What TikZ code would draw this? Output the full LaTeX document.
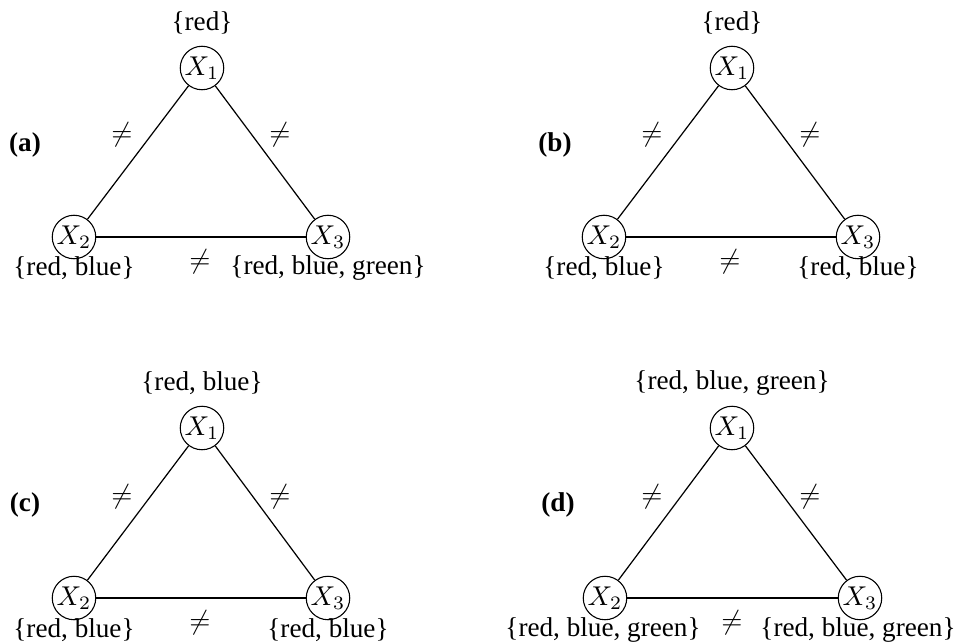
\documentclass[tikz,border=0pt]{standalone}
\usepackage{fontspec}
\setmainfont{Liberation Serif}
\begin{document}
\begin{tikzpicture}[x=0.368pt,y=-0.368pt,
  var/.style={draw,circle,line width=0.4pt,minimum size=16pt,inner sep=0pt},
  side/.style={line width=0.45pt},
  base/.style={line width=0.9pt},
  tag/.style={font=\bfseries}]
\useasboundingbox (0,0) rectangle (962,643);
% (a)
\begin{scope}
\node[var] (a1) at (202,68) {$X_1$};
\node[var] (a2) at (74,237) {$X_2$};
\node[var] (a3) at (328,237) {$X_3$};
\draw[side] (a1) -- (a2);
\draw[side] (a1) -- (a3);
\draw[base] (a2) -- (a3);
% domains
\node (a1d) at (202,23) {\{red\}};
\node (a2d) at (74,268) {\{red, blue\}};
\node (a3d) at (328,268) {\{red, blue, green\}};
% constraints
\node (a12) at (122,135) {$\neq$};
\node (a13) at (280,135) {$\neq$};
\node (a23) at (200,262) {$\neq$};
\node[tag] (atag) at (25,145) {(a)};
\end{scope}
% (b)
\begin{scope}[shift={(530,0)}]
\node[var] (b1) at (202,68) {$X_1$};
\node[var] (b2) at (74,237) {$X_2$};
\node[var] (b3) at (328,237) {$X_3$};
\draw[side] (b1) -- (b2);
\draw[side] (b1) -- (b3);
\draw[base] (b2) -- (b3);
% domains
\node (b1d) at (202,23) {\{red\}};
\node (b2d) at (74,268) {\{red, blue\}};
\node (b3d) at (328,268) {\{red, blue\}};
% constraints
\node (b12) at (122,135) {$\neq$};
\node (b13) at (280,135) {$\neq$};
\node (b23) at (200,262) {$\neq$};
\node[tag] (btag) at (25,145) {(b)};
\end{scope}
% (c)
\begin{scope}[shift={(0,360)}]
\node[var] (c1) at (202,68) {$X_1$};
\node[var] (c2) at (74,238) {$X_2$};
\node[var] (c3) at (328,238) {$X_3$};
\draw[side] (c1) -- (c2);
\draw[side] (c1) -- (c3);
\draw[base] (c2) -- (c3);
% domains
\node (c1d) at (202,23) {\{red, blue\}};
\node (c2d) at (74,270) {\{red, blue\}};
\node (c3d) at (328,270) {\{red, blue\}};
% constraints
\node (c12) at (122,137) {$\neq$};
\node (c13) at (280,137) {$\neq$};
\node (c23) at (200,263) {$\neq$};
\node[tag] (ctag) at (25,145) {(c)};
\end{scope}
% (d)
\begin{scope}[shift={(530,360)}]
\node[var] (d1) at (202,68) {$X_1$};
\node[var] (d2) at (75,238) {$X_2$};
\node[var] (d3) at (330,238) {$X_3$};
\draw[side] (d1) -- (d2);
\draw[side] (d1) -- (d3);
\draw[base] (d2) -- (d3);
% domains
\node (d1d) at (202,23) {\{red, blue, green\}};
\node (d2d) at (73,270) {\{red, blue, green\}};
\node (d3d) at (328,270) {\{red, blue, green\}};
% constraints
\node (d12) at (122,137) {$\neq$};
\node (d13) at (280,137) {$\neq$};
\node (d23) at (202,263) {$\neq$};
\node[tag] (dtag) at (28,145) {(d)};
\end{scope}
\end{tikzpicture}
\end{document}
